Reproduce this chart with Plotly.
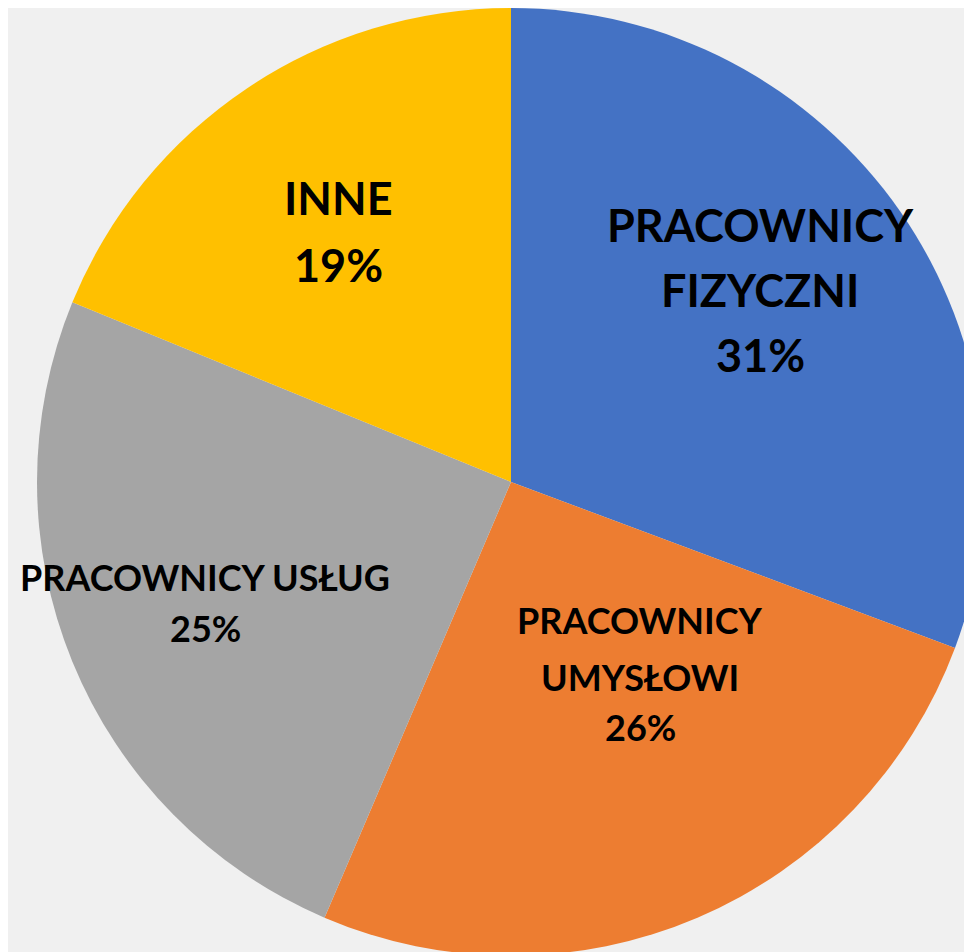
import plotly.graph_objects as go

labels = ["PRACOWNICY FIZYCZNI", "PRACOWNICY UMYSŁOWI", "PRACOWNICY USŁUG", "INNE"]
values = [31, 26, 25, 19]
colors = ["#4472C4", "#ED7D31", "#A5A5A5", "#FFC000"]

W, H = 980, 952

fig = go.Figure(go.Pie(
    labels=labels, values=values, sort=False, direction="clockwise", rotation=0,
    marker=dict(colors=colors, line=dict(width=0)),
    textinfo="none", hoverinfo="label+percent", showlegend=False,
    domain=dict(x=[29 / W, 977 / W], y=[4 / H, 1]),
))

# label layout: line splits, x centre, line y centres (px from top), font size
label_layout = [
    (["PRACOWNICY", "FIZYCZNI"], 752, [217, 282, 347], 45),
    (["PRACOWNICY", "UMYSŁOWI"], 632, [612, 669, 719], 36),
    (["PRACOWNICY USŁUG"], 197, [569, 620], 36),
    (["INNE"], 330, [190, 257], 45),
]
for v, (lines, x, ys, s) in zip(values, label_layout):
    for txt, y in zip(lines + [f"{v}%"], ys):
        fig.add_annotation(x=x / W, y=1 - y / H, xref="paper", yref="paper", showarrow=False,
                           xanchor="center", yanchor="middle",
                           text=f"<b>{txt}</b>", font=dict(family="Lato", size=s, color="black"))

fig.update_layout(width=W, height=H, margin=dict(l=0, r=0, t=0, b=0),
                  paper_bgcolor="#f0f0f0", plot_bgcolor="#f0f0f0")
fig.write_html("out.html")
